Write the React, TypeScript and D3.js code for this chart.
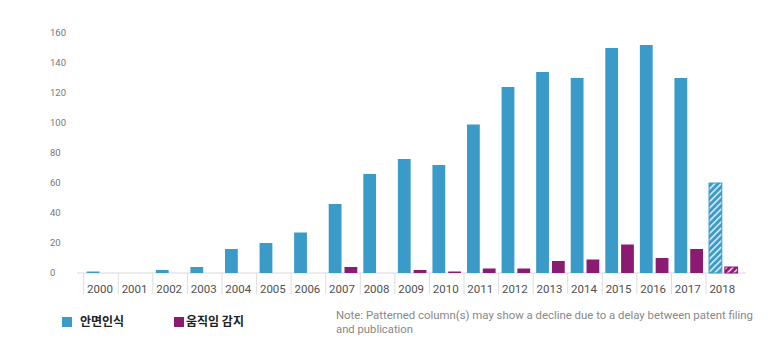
import React from "react";
import * as d3 from "d3";

const years = ["2000","2001","2002","2003","2004","2005","2006","2007","2008","2009","2010","2011","2012","2013","2014","2015","2016","2017","2018"];
const faceRecognition = [1,0,2,4,16,20,27,46,66,76,72,99,124,134,130,150,152,130,60];
const motionDetection = [0,0,0,0,0,0,0,4,0,2,1,3,3,8,9,19,10,16,4];
const seriesNames = ["안면인식", "움직임 감지"];
const yTicks = [0,20,40,60,80,100,120,140,160];
const patternedYears = ["2018"];
const noteLines = ["Note: Patterned column(s) may show a decline due to a delay between patent filing", "and publication"];

const BLUE = "#3a9bc9";
const PURPLE = "#8b1a73";

export default function App() {
  const W = 780, H = 345;
  const x0 = d3.scaleBand<string>().domain(years).range([83.7, 740.6]).paddingInner(0).paddingOuter(0);
  const bw = x0.bandwidth();
  const x1 = d3.scaleBand<number>().domain([0, 1]).range([3, bw - 3]).paddingInner(0.19);
  const y = d3.scaleLinear().domain([0, 160]).range([273, 33]);
  const series = [faceRecognition, motionDetection];
  const colors = [BLUE, PURPLE];

  return (
    <div style={{ position: "absolute", left: 0, top: 0 }}>
      <svg width={W} height={H} style={{ display: "block", background: "#fff" }}>
        <defs>
          {colors.map((c, i) => (
            <pattern key={i} id={`hatch${i}`} width={4.5} height={4.5} patternUnits="userSpaceOnUse" patternTransform="rotate(45)">
              <rect width={4.5} height={4.5} fill={c} />
              <rect x={0} width={1.6} height={4.5} fill="#ffffff" opacity={0.8} />
            </pattern>
          ))}
        </defs>
        {yTicks.map((t) => (
          <text key={t} x={50} y={y(t)} dy="0.35em" fontFamily="Roboto, 'Open Sans', sans-serif" fontSize={9.5} fill="#777">
            {t}
          </text>
        ))}
        <line x1={77} x2={746} y1={273} y2={273} stroke="#d9d9d9" strokeWidth={1} />
        {years.map((yr) => (
          <line key={yr} x1={x0(yr)!} x2={x0(yr)!} y1={273} y2={294} stroke="#dedede" strokeWidth={1} />
        ))}
        {years.map((yr) => (
          <text key={yr} x={x0(yr)! + bw / 2 - 1} y={289} dy="0.35em" textAnchor="middle" fontFamily="Roboto, 'Open Sans', sans-serif" fontSize={11.5} fill="#505050">
            {yr}
          </text>
        ))}
        {series.map((vals, si) =>
          vals.map((v, i) => {
            if (v <= 0) return null;
            const yr = years[i];
            const patterned = patternedYears.includes(yr);
            const bx = x0(yr)! + x1(si)!;
            return (
              <rect
                key={`${si}-${i}`}
                x={bx}
                y={y(v)}
                width={x1.bandwidth()}
                height={y(0) - y(v)}
                fill={patterned ? `url(#hatch${si})` : colors[si]}
                stroke={patterned ? colors[si] : "none"}
                strokeWidth={patterned ? 1 : 0}
              />
            );
          })
        )}
        {seriesNames.map((name, i) => {
          const lx = [62, 174][i];
          return (
            <g key={name}>
              <rect x={lx} y={317} width={10} height={10} fill={colors[i]} />
              <text x={lx + (i === 1 ? 12 : 18)} y={322} dy="0.35em" fontFamily="'Noto Sans CJK KR', sans-serif" fontWeight={700} fontSize={12} fill="#222">
                {name}
              </text>
            </g>
          );
        })}
        <text x={336} y={315} dy="0.35em" fontFamily="Roboto, sans-serif" fontSize={10.5} fill="#888" textLength={417} lengthAdjust="spacingAndGlyphs">
          {noteLines[0]}
        </text>
        <text x={336} y={329} dy="0.35em" fontFamily="Roboto, sans-serif" fontSize={10.5} fill="#888" textLength={77} lengthAdjust="spacingAndGlyphs">
          {noteLines[1]}
        </text>
      </svg>
    </div>
  );
}
